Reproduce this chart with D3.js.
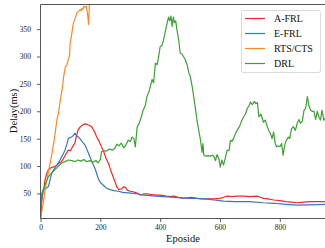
<!DOCTYPE html>
<html>
<head>
<meta charset="utf-8">
<script src="https://cdn.jsdelivr.net/npm/d3@7"></script>
<style>
  body { margin: 0; background: #fff; }
  svg { display: block; font-family: "Liberation Serif", "DejaVu Serif", serif; }
</style>
</head>
<body>
<div class="canvas"></div>
<script>
// Data: [episode, delay in ms]
const aFrl = [[0,5],[4,35],[8,52],[12,62],[15,74],[20,85],[26,93],[32,96],[40,98],[48,99],[56,102],[63,106],[70,108],[78,115],[85,122],[93,129],[100,128],[107,135],[115,142],[120,155],[126,166],[132,171],[140,175],[148,177],[156,176],[164,174],[171,172],[180,163],[188,153],[196,145],[204,135],[212,125],[220,113],[227,105],[235,92],[243,80],[250,70],[255,62],[262,57],[270,58],[278,62],[284,61],[290,56],[300,54],[310,53],[320,51],[334,47],[345,49],[356,49],[370,48],[385,47],[400,47],[420,45],[434,44],[446,45],[460,43],[478,41],[490,42],[505,43],[523,41],[540,40],[560,40],[580,40],[600,41],[612,43],[625,45],[640,44],[658,45],[680,45],[700,44],[725,45],[735,43],[746,41],[760,40],[780,38],[800,37],[820,35],[840,34],[858,33],[880,34],[900,35],[920,35],[955,35]];

const eFrl = [[0,5],[4,40],[9,56],[15,58],[20,60],[26,62],[30,70],[37,86],[45,94],[52,100],[59,105],[66,112],[74,120],[82,129],[88,140],[93,150],[98,152],[104,153],[110,156],[115,160],[120,156],[126,153],[132,150],[140,144],[149,138],[157,128],[165,117],[173,106],[182,96],[188,86],[193,77],[200,70],[210,65],[220,60],[232,57],[245,55],[260,54],[275,52],[293,51],[310,50],[327,49],[345,47],[365,46],[385,45],[412,44],[440,43],[470,42],[500,41],[523,41],[550,40],[580,38],[612,36],[650,35],[700,35],[745,33],[780,32],[820,30],[858,28.5],[900,29],[955,30]];

const rtsCts = [[0,5],[5,19],[10,35],[15,55],[21,74],[26,88],[32,105],[38,122],[44,142],[49,160],[55,185],[60,196],[66,220],[72,239],[77,262],[83,281],[88,285],[94,297],[97,300],[99,324],[104,340],[110,361],[116,370],[122,380],[128,383],[133,386],[136,383],[139,388],[142,386],[145,392],[150,390],[153,392],[157,379],[161,358],[163,390],[166,420]];

const drl = [[0,5],[3,48],[8,55],[15,66],[20,72],[26,80],[35,86],[48,93],[60,100],[70,105],[82,108],[93,111],[105,110],[115,108],[125,111],[135,109],[145,112],[155,108],[165,110],[175,107],[185,110],[193,106],[200,112],[204,126],[212,128],[220,127],[230,131],[240,129],[249,133],[255,140],[262,137],[270,142],[278,133],[285,138],[293,147],[300,145],[306,153],[312,150],[317,135],[323,171],[330,178],[337,190],[343,202],[350,210],[356,227],[362,235],[367,245],[373,258],[378,252],[384,288],[390,285],[395,300],[400,318],[406,320],[411,330],[417,345],[423,361],[428,372],[432,365],[436,374],[440,355],[444,372],[448,362],[452,365],[456,349],[462,330],[467,306],[472,305],[478,300],[484,294],[490,285],[496,270],[501,263],[507,245],[512,227],[518,205],[523,184],[529,165],[535,147],[540,125],[543,141],[546,120],[552,118],[560,119],[568,118],[575,120],[580,117],[585,110],[590,121],[596,114],[601,98],[606,111],[612,102],[618,115],[624,129],[630,128],[635,147],[640,145],[645,150],[652,160],[658,166],[665,172],[672,182],[679,190],[685,195],[691,205],[697,210],[702,217],[708,212],[715,218],[720,214],[725,216],[730,190],[737,195],[745,180],[751,184],[758,172],[763,165],[768,160],[774,150],[779,162],[785,140],[790,135],[795,137],[800,135],[806,141],[811,120],[817,140],[822,147],[828,153],[833,150],[839,168],[845,172],[852,165],[858,178],[864,185],[869,178],[875,182],[881,202],[886,205],[892,227],[897,210],[903,202],[908,200],[914,200],[920,185],[925,200],[930,190],[936,184],[941,202],[947,184],[955,190]];

const seriesNames = ['A-FRL', 'E-FRL', 'RTS/CTS', 'DRL'];
const seriesData = [aFrl, eFrl, rtsCts, drl];
const seriesColors = ['#ee2a24', '#3a76bd', '#f7892c', '#3f9e37'];

const xTicks = [0, 200, 400, 600, 800];
const yTicks = [50, 100, 150, 200, 250, 300, 350];

const dimensions = { width: 325, height: 248 };
const plot = { left: 40.5, right: 326.5, top: 4.5, bottom: 218.5 };

const svg = d3.select('.canvas')
  .append('svg')
  .attr('width', dimensions.width)
  .attr('height', dimensions.height);

const x = d3.scaleLinear().domain([0, 956]).range([plot.left, plot.right]);
const y = d3.scaleLinear().domain([4.2, 395]).range([plot.bottom, plot.top]);

svg.append('clipPath')
  .attr('id', 'clip')
  .append('rect')
  .attr('x', plot.left)
  .attr('y', plot.top)
  .attr('width', plot.right - plot.left)
  .attr('height', plot.bottom - plot.top);

const line = d3.line()
  .x(d => x(d[0]))
  .y(d => y(d[1]));

svg.append('g')
  .attr('clip-path', 'url(#clip)')
  .selectAll('path')
  .data(seriesData)
  .enter()
  .append('path')
  .attr('d', line)
  .attr('fill', 'none')
  .attr('stroke', (d, i) => seriesColors[i])
  .attr('stroke-width', 1.2)
  .attr('stroke-linejoin', 'round');

// axes
const xAxis = svg.append('g')
  .attr('transform', `translate(0, ${plot.bottom})`)
  .call(d3.axisBottom(x).tickValues(xTicks).tickSize(3.5).tickPadding(3).tickSizeOuter(0));

const yAxis = svg.append('g')
  .attr('transform', `translate(${plot.left}, 0)`)
  .call(d3.axisLeft(y).tickValues(yTicks).tickSize(3.5).tickPadding(6).tickSizeOuter(0));

[xAxis, yAxis].forEach(a => {
  a.select('.domain').remove();
  a.selectAll('line').attr('stroke', '#333').attr('stroke-width', 0.8);
  a.selectAll('text')
    .attr('fill', '#222')
    .style('font-family', '"Liberation Serif", serif')
    .style('font-size', '7.5px');
});

// spines
svg.append('path')
  .attr('d', `M${plot.right},${plot.top}H${plot.left}V${plot.bottom}H${plot.right}`)
  .attr('fill', 'none')
  .attr('stroke', '#555')
  .attr('stroke-width', 1);

// axis labels
svg.append('text')
  .attr('x', 183)
  .attr('y', 241.5)
  .attr('text-anchor', 'middle')
  .attr('fill', '#111')
  .style('font-size', '10.5px')
  .text('Eposide');

svg.append('text')
  .attr('transform', 'translate(13.5, 111) rotate(-90)')
  .attr('dy', '0.35em')
  .attr('text-anchor', 'middle')
  .attr('fill', '#111')
  .style('font-size', '10.5px')
  .text('Delay(ms)');

// legend
const legend = svg.append('g');

legend.append('rect')
  .attr('x', 241.5)
  .attr('y', 10.5)
  .attr('width', 79)
  .attr('height', 62)
  .attr('rx', 2)
  .attr('fill', '#fff')
  .attr('fill-opacity', 0.85)
  .attr('stroke', '#d0d0d0')
  .attr('stroke-width', 0.8);

const items = legend.selectAll('.item')
  .data(seriesNames)
  .enter()
  .append('g')
  .attr('transform', (d, i) => `translate(0, ${18.5 + i * 15})`);

items.append('line')
  .attr('x1', 245)
  .attr('x2', 265)
  .attr('stroke', (d, i) => seriesColors[i])
  .attr('stroke-width', 1.2);

items.append('text')
  .attr('x', 274)
  .attr('dy', '0.35em')
  .attr('fill', '#111')
  .style('font-size', '10px')
  .text(d => d);
</script>
</body>
</html>
